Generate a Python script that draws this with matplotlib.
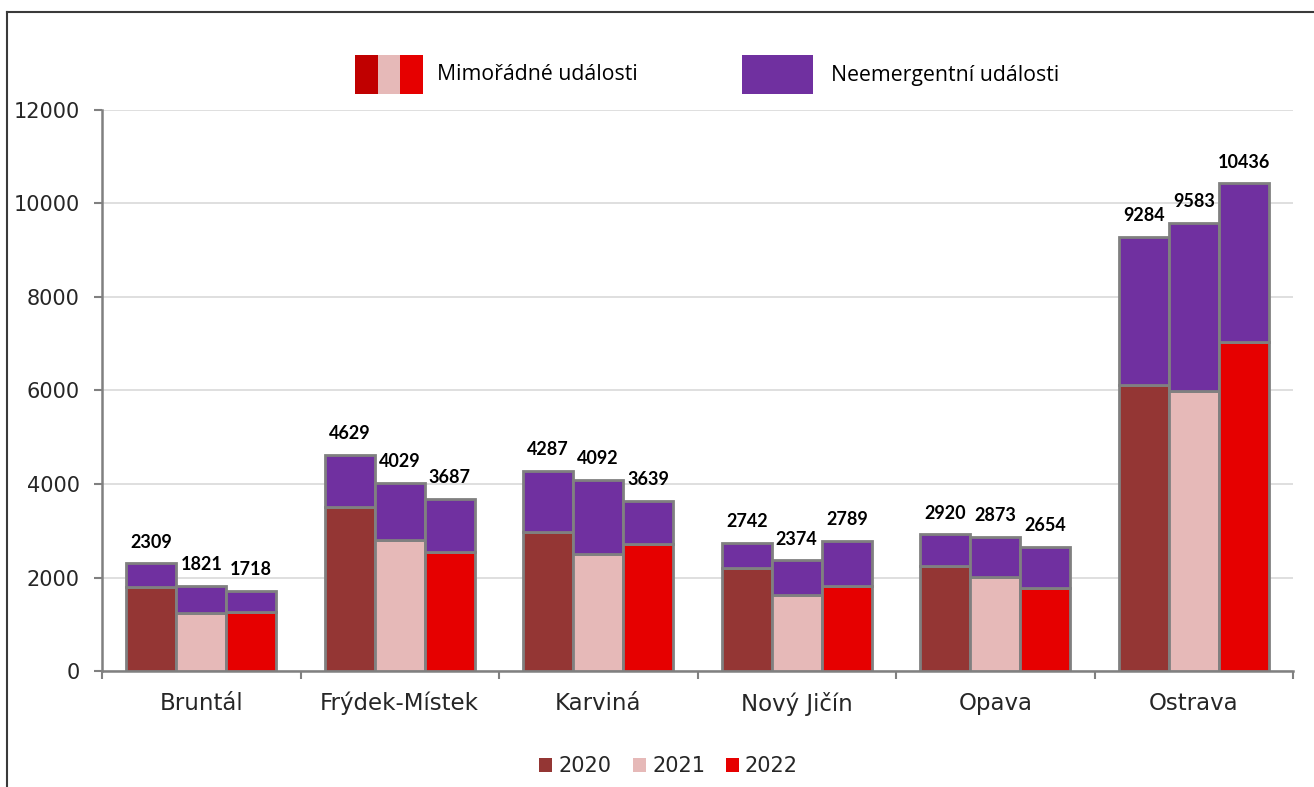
import matplotlib
matplotlib.use("Agg")
import matplotlib.pyplot as plt
import numpy as np
from matplotlib.patches import Rectangle
from matplotlib.lines import Line2D

categories = ['Bruntál', 'Frýdek-Místek', 'Karviná', 'Nový Jičín', 'Opava', 'Ostrava']
years = ['2020', '2021', '2022']

totals_2020 = [2309, 4629, 4287, 2742, 2920, 9284]
totals_2021 = [1821, 4029, 4092, 2374, 2873, 9583]
totals_2022 = [1718, 3687, 3639, 2789, 2654, 10436]

mimoradne_2020 = [1800, 3500, 2975, 2205, 2240, 6125]
mimoradne_2021 = [1240, 2805, 2495, 1630, 2010, 5995]
mimoradne_2022 = [1260, 2550, 2725, 1820, 1785, 7045]

yticks = [0, 2000, 4000, 6000, 8000, 10000, 12000]

year_colors = ['#943634', '#E6B9B8', '#E60000']
legend_mim_colors = ['#C00000', '#E6B9B8', '#E60000']
purple = '#7030A0'
edge = '#808080'

W, H = 1314, 787
fig = plt.figure(figsize=(W / 100, H / 100), dpi=100)
ax = fig.add_axes([102 / W, 1 - 671 / H, (1293 - 102) / W, (671 - 110) / H])

x = np.arange(len(categories))
bw = 0.252
totals = [totals_2020, totals_2021, totals_2022]
mims = [mimoradne_2020, mimoradne_2021, mimoradne_2022]

for i in range(3):
    pos = x + (i - 1) * bw
    mim = np.array(mims[i])
    tot = np.array(totals[i])
    neem = tot - mim
    ax.bar(pos, mim, width=bw, color=year_colors[i], edgecolor=edge, linewidth=2, zorder=3)
    ax.bar(pos, neem, bottom=mim, width=bw, color=purple, edgecolor=edge, linewidth=2, zorder=3)
    for p, t in zip(pos, tot):
        ax.annotate(f'{t}', (p, t), xytext=(0, 9), textcoords='offset points',
                    ha='center', va='bottom', fontsize=13, fontweight='bold',
                    family='Lato', color='black', zorder=4)

ax.set_ylim(0, 12000)
ax.set_xlim(-0.5, len(categories) - 0.5)
ax.set_yticks(yticks)
ax.set_yticklabels([str(v) for v in yticks], family='DejaVu Sans', fontsize=15, color='#262626')
ax.yaxis.grid(True, color='#D9D9D9', linewidth=1.2, zorder=0)
ax.set_axisbelow(True)

ax.set_xticks(x)
ax.set_xticklabels(categories, family='DejaVu Sans', fontsize=16.5, color='#262626')
ax.set_xticks(np.arange(-0.5, len(categories) + 0.5, 1), minor=True)
ax.tick_params(axis='x', which='major', length=0, pad=15)
ax.tick_params(axis='x', which='minor', length=6, width=1.5, color=edge, direction='out')
ax.tick_params(axis='y', length=6, width=1.5, color=edge, direction='out', pad=10)

for s in ['top', 'right']:
    ax.spines[s].set_visible(False)
for s in ['left', 'bottom']:
    ax.spines[s].set_color(edge)
    ax.spines[s].set_linewidth(1.8)

# figure border (top and left visible)
fig.add_artist(Line2D([7 / W, 1.0], [1 - 12 / H, 1 - 12 / H], transform=fig.transFigure,
                      color='#3A3A3A', linewidth=1.5))
fig.add_artist(Line2D([7 / W, 7 / W], [0, 1 - 12 / H], transform=fig.transFigure,
                      color='#3A3A3A', linewidth=1.5))

# top legend
strip = (423 - 355) / 3
for k, c in enumerate(legend_mim_colors):
    fig.add_artist(Rectangle(((355 + k * strip) / W, 1 - 94 / H), strip / W, 39 / H,
                             transform=fig.transFigure, facecolor=c, edgecolor='none'))
fig.text(437 / W, 1 - 75 / H, 'Mimořádné události', family='Open Sans', fontsize=15.3,
         va='center', ha='left', color='black')
fig.add_artist(Rectangle((742 / W, 1 - 94 / H), 71 / W, 39 / H,
                         transform=fig.transFigure, facecolor=purple, edgecolor='none'))
fig.text(831 / W, 1 - 75 / H, 'Neemergentní události', family='Open Sans', fontsize=15.3,
         va='center', ha='left', color='black')

# bottom legend
sq_x = [539, 633, 726]
tx_x = [558, 652, 745]
for c, sx, tx, yl in zip(year_colors, sq_x, tx_x, years):
    fig.add_artist(Rectangle((sx / W, 1 - 772 / H), 13 / W, 14 / H,
                             transform=fig.transFigure, facecolor=c, edgecolor='none'))
    fig.text(tx / W, 1 - 766 / H, yl, family='DejaVu Sans', fontsize=15,
             va='center', ha='left', color='#262626')

fig.savefig('out.png', dpi=100)
